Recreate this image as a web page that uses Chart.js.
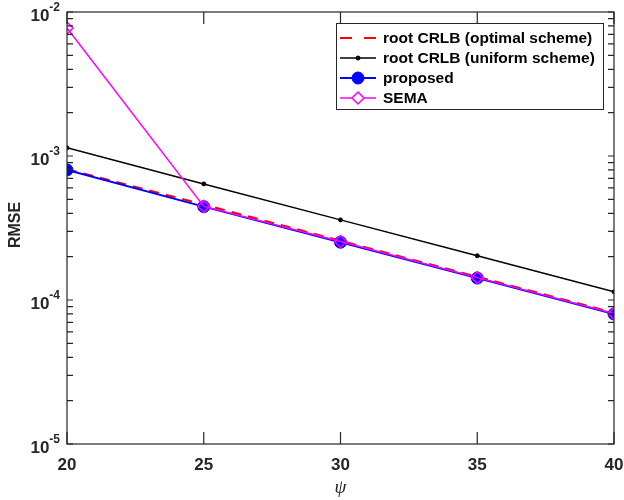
<!DOCTYPE html>
<html>
<head>
<meta charset="utf-8">
<script src="https://cdn.jsdelivr.net/npm/chart.js@4.4.1/dist/chart.umd.min.js"></script>
<style>
  body { margin: 0; background: #fff; }
  #wrap { width: 624px; height: 500px; }
</style>
</head>
<body>
<div id="wrap"><canvas id="rmseChart" width="624" height="500"></canvas></div>
<script>
// data
const psi = [20, 25, 30, 35, 40];
const crlbOptimal = [8.1e-4, 4.6e-4, 2.58e-4, 1.45e-4, 8.15e-5];
const crlbUniform = [1.14e-3, 6.4e-4, 3.6e-4, 2.03e-4, 1.14e-4];
const proposed = [8.0e-4, 4.45e-4, 2.52e-4, 1.42e-4, 8.0e-5];
const sema = [7.74e-3, 4.47e-4, 2.55e-4, 1.43e-4, 8.05e-5];

const xTicks = [20, 25, 30, 35, 40];
const yExponents = [-5, -4, -3, -2];
const seriesLabels = ['root CRLB (optimal scheme)', 'root CRLB (uniform scheme)', 'proposed', 'SEMA'];

const axisColor = '#262626';
const toPoints = (ys) => ys.map((y, i) => ({ x: psi[i], y: y }));

// MATLAB-ish box, inward ticks, tick labels and titles
const axesPlugin = {
  id: 'matlabAxes',
  afterDraw(chart) {
    const ctx = chart.ctx;
    const a = chart.chartArea;
    const xs = chart.scales.x;
    const ys = chart.scales.y;
    ctx.save();
    ctx.strokeStyle = axisColor;
    ctx.lineWidth = 1.2;
    ctx.strokeRect(a.left, a.top, a.right - a.left, a.bottom - a.top);

    ctx.beginPath();
    xTicks.forEach(t => {
      const px = xs.getPixelForValue(t);
      ctx.moveTo(px, a.bottom); ctx.lineTo(px, a.bottom - 12);
      ctx.moveTo(px, a.top); ctx.lineTo(px, a.top + 12);
    });
    yExponents.forEach(e => {
      for (let m = 1; m <= 9; m++) {
        const v = m * Math.pow(10, e);
        if (v > 1e-2 + 1e-12) continue;
        const py = ys.getPixelForValue(v);
        ctx.moveTo(a.left, py); ctx.lineTo(a.left + 6, py);
        ctx.moveTo(a.right, py); ctx.lineTo(a.right - 6, py);
      }
    });
    ctx.stroke();

    ctx.fillStyle = axisColor;
    ctx.font = 'bold 17px "Liberation Sans", Arial, sans-serif';
    ctx.textAlign = 'center';
    ctx.textBaseline = 'alphabetic';
    xTicks.forEach(t => {
      ctx.fillText(String(t), xs.getPixelForValue(t), a.bottom + 25.5);
    });

    yExponents.forEach(e => {
      const py = ys.getPixelForValue(Math.pow(10, e));
      const sup = String(e);
      ctx.font = 'bold 12px "Liberation Sans", Arial, sans-serif';
      const supW = ctx.measureText(sup).width;
      ctx.textAlign = 'right';
      ctx.fillText(sup, a.left - 7, py - 1);
      ctx.font = 'bold 17px "Liberation Sans", Arial, sans-serif';
      ctx.fillText('10', a.left - 7 - supW, py + 9);
    });

    ctx.font = 'bold 16px "Liberation Sans", Arial, sans-serif';
    ctx.textAlign = 'center';
    ctx.textBaseline = 'middle';
    ctx.save();
    ctx.translate(16, (a.top + a.bottom) / 2 - 3);
    ctx.rotate(-Math.PI / 2);
    ctx.fillText('RMSE', 0, 0);
    ctx.restore();

    ctx.font = 'italic 19px "Liberation Serif", "DejaVu Serif", serif';
    ctx.textBaseline = 'alphabetic';
    ctx.fillText('\u03C8', (a.left + a.right) / 2, 493);
    ctx.restore();
  }
};

// legend drawn by hand so markers sit on the sample lines
const legendPlugin = {
  id: 'boxLegend',
  afterDraw(chart) {
    const ctx = chart.ctx;
    const box = { left: 336, top: 23, right: 603, bottom: 109 };
    ctx.save();
    ctx.fillStyle = '#fff';
    ctx.fillRect(box.left, box.top, box.right - box.left, box.bottom - box.top);
    ctx.strokeStyle = axisColor;
    ctx.lineWidth = 1;
    ctx.strokeRect(box.left + 0.5, box.top + 0.5, box.right - box.left, box.bottom - box.top);

    const rowY = [38, 58, 78, 98];
    const x0 = 340, x1 = 376, xm = 358;
    chart.data.datasets.forEach((ds, i) => {
      const y = rowY[i];
      ctx.strokeStyle = ds.borderColor;
      ctx.lineWidth = ds.borderWidth;
      ctx.setLineDash(ds.borderDash ? [12, 12] : []);
      ctx.beginPath();
      ctx.moveTo(x0, y); ctx.lineTo(x1, y);
      ctx.stroke();
      ctx.setLineDash([]);
      if (ds.pointRadius > 0) {
        const r = ds.pointRadius;
        ctx.beginPath();
        if (ds.pointStyle === 'rectRot') {
          ctx.moveTo(xm, y - r); ctx.lineTo(xm + r, y); ctx.lineTo(xm, y + r); ctx.lineTo(xm - r, y);
          ctx.closePath();
          ctx.fillStyle = '#fff';
          ctx.fill();
        } else {
          ctx.arc(xm, y, r, 0, Math.PI * 2);
          ctx.fillStyle = ds.pointBackgroundColor;
          ctx.fill();
        }
        ctx.strokeStyle = ds.pointBorderColor;
        ctx.lineWidth = ds.pointBorderWidth;
        ctx.stroke();
      }
      ctx.fillStyle = '#000';
      ctx.font = 'bold 15.5px "Liberation Sans", Arial, sans-serif';
      ctx.textAlign = 'left';
      ctx.textBaseline = 'middle';
      ctx.fillText(seriesLabels[i], 383, y + 1);
    });
    ctx.restore();
  }
};

const ctx = document.getElementById('rmseChart').getContext('2d');
new Chart(ctx, {
  type: 'line',
  data: {
    datasets: [
      {
        label: seriesLabels[0],
        data: toPoints(crlbOptimal),
        borderColor: '#ff0000',
        borderWidth: 2,
        borderDash: [10, 7],
        pointRadius: 0,
        order: 4,
      },
      {
        label: seriesLabels[1],
        data: toPoints(crlbUniform),
        borderColor: '#000000',
        borderWidth: 1.5,
        pointRadius: 2,
        pointBackgroundColor: '#000000',
        pointBorderColor: '#000000',
        pointBorderWidth: 1,
        order: 3,
      },
      {
        label: seriesLabels[2],
        data: toPoints(proposed),
        borderColor: '#0000ff',
        borderWidth: 2,
        pointRadius: 6,
        pointBackgroundColor: '#0000ff',
        pointBorderColor: '#0000ff',
        pointBorderWidth: 1,
        order: 2,
      },
      {
        label: seriesLabels[3],
        data: toPoints(sema),
        borderColor: '#ff00ff',
        borderWidth: 1.5,
        pointStyle: 'rectRot',
        pointRadius: 6,
        pointBackgroundColor: 'rgba(0,0,0,0)',
        pointBorderColor: '#ff00ff',
        pointBorderWidth: 1.5,
        order: 1,
      },
    ],
  },
  options: {
    responsive: false,
    animation: false,
    layout: { padding: { top: 12, right: 10, left: 0, bottom: 0 } },
    plugins: {
      legend: { display: false },
      tooltip: { enabled: false },
    },
    scales: {
      x: {
        type: 'linear',
        min: 20,
        max: 40,
        grid: { display: false },
        border: { display: false },
        ticks: { display: false },
        afterFit: (scale) => { scale.height = 56; },
      },
      y: {
        type: 'logarithmic',
        min: 1e-5,
        max: 1e-2,
        grid: { display: false },
        border: { display: false },
        ticks: { display: false },
        afterFit: (scale) => { scale.width = 67; },
      },
    },
  },
  plugins: [axesPlugin, legendPlugin],
});
</script>
</body>
</html>
